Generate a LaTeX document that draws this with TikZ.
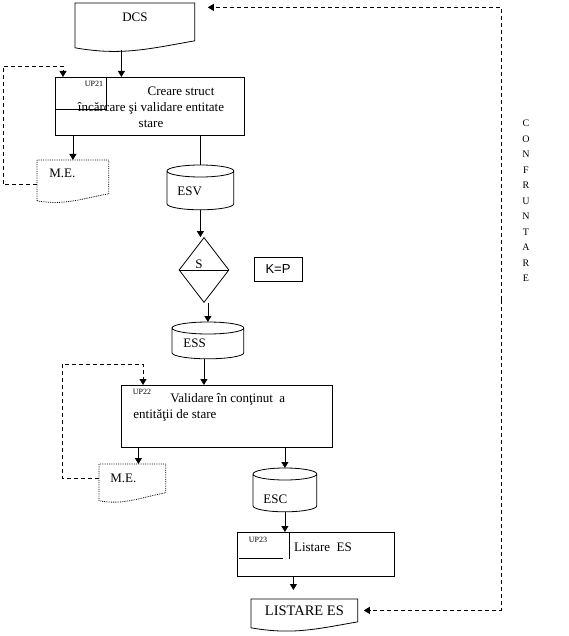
\documentclass[tikz,border=0pt]{standalone}
\usepackage{fontspec}
\setmainfont{Liberation Serif}
\newfontfamily\arialfont{Liberation Sans}
\usetikzlibrary{positioning,calc,arrows.meta,shapes.geometric}

% document symbol: node name, dip of the lower left corner
\newcommand{\docshape}[3][]{%
  \draw[#1] ($(#2.south west)+(0,-#3)$) -- (#2.north west) -- (#2.north east)
    -- (#2.south east) to[out=190,in=-10] ($(#2.south west)+(0,-#3)$);}
% disk file symbol round a node
\newcommand{\storeshape}[1]{%
  \draw let \p1=(#1.north west), \p2=(#1.south east), \n1={(\x2-\x1)/2} in
    (\x1,\y1-6pt) -- (\x1,\y2+6pt)
    arc[start angle=180,end angle=360,x radius=\n1,y radius=6pt]
    -- (\x2,\y1-6pt)
    (\x1,\y1-6pt) arc[start angle=180,end angle=-180,x radius=\n1,y radius=6pt];}

\tikzset{
  box/.style={draw,inner sep=0pt,anchor=north west},
  doc/.style={inner sep=0pt,anchor=north west},
  store/.style={inner ysep=0pt,anchor=north west,align=left},
  txt/.style={inner sep=0pt},
  upno/.style={inner sep=0pt,font=\fontsize{8}{9}\selectfont},
  arr/.style={-{Triangle[length=6pt,width=7pt]}},
  back/.style={arr,dash pattern=on 4pt off 3pt}
}

\begin{document}
\begin{tikzpicture}[x=1pt,y=1pt,line width=0.8pt,font=\fontsize{13}{16}\selectfont]
  \useasboundingbox (0,0) rectangle (569,-636);

  \node[doc,minimum width=119,minimum height=37,text depth=9pt] (dcs) at (75,-3) {DCS};
  \docshape{dcs}{7}

  % UP21
  \node[box,minimum width=189,minimum height=58] (up21) at (55,-77) {};
  \draw ([xshift=51pt]up21.north west) -- ++(0,-32) -- ++(-51,0);
  \node[upno] (up21no) at (94,-84) {UP21};
  \node[txt,align=center] (up21txt) at (151,-107)
    {\hspace*{60pt}Creare struct\\încărcare şi validare entitate\\stare};

  \node[doc,text width=47pt,inner xsep=12pt,align=left,minimum height=33,text depth=7pt] (me1) at (37,-160) {M.E.};
  \docshape[densely dotted]{me1}{7}

  \node[store,text width=46pt,inner xsep=10pt,minimum height=44,text height=17pt] (esv) at (167,-165) {ESV};
  \storeshape{esv}

  \node[draw,diamond,minimum width=50,minimum height=65,inner sep=0pt] (dec) at (204,-270) {};
  \draw (dec.west) -- (dec.east);
  \node[txt] (declbl) at (199,-264) {S};
  \node[draw,minimum width=48,minimum height=24,font=\arialfont\fontsize{13}{15}\selectfont] (kp) at (278,-269) {K=P};

  \node[store,text width=49pt,inner xsep=11pt,minimum height=36,text height=14.6pt] (ess) at (172,-322) {ESS};
  \storeshape{ess}

  % UP22
  \node[box,minimum width=211,minimum height=62] (up22) at (121,-385) {};
  \node[upno] (up22no) at (142,-392) {UP22};
  \node[txt,align=left,anchor=west] (up22txt) at (133,-407)
    {\hspace*{37pt}Validare în conţinut~ a\\entităţii de stare};

  \node[doc,text width=44pt,inner xsep=11pt,align=left,minimum height=28] (me2) at (99,-464) {M.E.};
  \docshape[densely dotted]{me2}{8}

  \node[store,text width=43pt,inner xsep=10pt,minimum height=43,text height=27.6pt] (esc) at (253,-468) {ESC};
  \storeshape{esc}

  % UP23
  \node[box,minimum width=157,minimum height=44] (up23) at (237,-532) {};
  \draw ([xshift=52pt]up23.north west) -- ++(0,-27);
  \draw ($(up23.north west)+(2,-26)$) -- ++(44,0);
  \node[upno] (up23no) at (258,-540) {UP23};
  \node[txt] (up23txt) at (323,-547) {Listare~ ES};

  \node[doc,minimum width=106,minimum height=22,font=\fontsize{14.5}{16}\selectfont] (lst) at (251,-599) {LISTARE ES};
  \docshape{lst}{6}

  \node[font=\fontsize{10}{15.5}\selectfont,align=center,inner sep=0pt] (cnflbl) at (526,-201)
    {C\\O\\N\\F\\R\\U\\N\\T\\A\\R\\E};
  \coordinate (cnf) at (501,-300);

  % flow
  \draw[arr] ([xshift=-13.5pt,yshift=-9pt]dcs.south) -- ([xshift=-13.5pt]dcs.south |- up21.north);
  \draw[arr] (me1.north |- up21.south) -- (me1.north);
  \draw (esv.north |- up21.south) -- (esv.north);
  \draw[arr] (esv.south) -- (esv.south |- dec.north);
  \draw[arr] (ess.north |- dec.south) -- (ess.north);
  \draw[arr] ([xshift=-4pt]ess.south) -- ([xshift=-4pt]ess.south |- up22.north);
  \draw[arr] ([xshift=6pt]me2.north |- up22.south) -- ([xshift=6pt]me2.north);
  \draw[arr] (esc.north |- up22.south) -- (esc.north);
  \draw[arr] (esc.south) -- (esc.south |- up23.north);
  \draw[arr,shorten >=9pt] ([xshift=-11pt]lst.north |- up23.south) -- ([xshift=-11pt]lst.north);

  % error loops
  \draw[back] ([yshift=-8pt]me1.west) -| (3,-66) -| ([xshift=8pt]up21.north west);
  \draw[back] (me2.west) -| (62,-364) -| ([xshift=22pt]up22.north west);

  % confruntare
  \draw[back] (cnf) |- ([xshift=13pt,yshift=14.5pt]dcs.east);
  \draw[back] (cnf) |- ([xshift=6pt]lst.east);
\end{tikzpicture}
\end{document}
